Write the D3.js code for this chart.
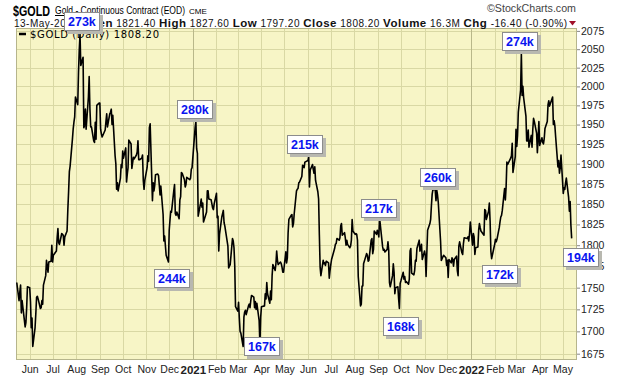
<!DOCTYPE html>
<html><head><meta charset="utf-8">
<script src="https://cdn.jsdelivr.net/npm/d3@7"></script>
<style>body{margin:0;background:#fff}svg{display:block}</style>
</head><body>
<svg id="chart" width="620" height="376"></svg>
<script>
// ---------------- DATA ----------------
const dates2020 = ["05-15","05-18","05-19","05-20","05-21","05-22","05-26","05-27","05-28","05-29","06-01","06-02","06-03","06-04","06-05","06-08","06-09","06-10","06-11","06-12","06-15","06-16","06-17","06-18","06-19","06-22","06-23","06-24","06-25","06-26","06-29","06-30","07-01","07-02","07-06","07-07","07-08","07-09","07-10","07-13","07-14","07-15","07-16","07-17","07-20","07-21","07-22","07-23","07-24","07-27","07-28","07-29","07-30","07-31","08-03","08-04","08-05","08-06","08-07","08-10","08-11","08-12","08-13","08-14","08-17","08-18","08-19","08-20","08-21","08-24","08-25","08-26","08-27","08-28","08-31","09-01","09-02","09-03","09-04","09-08","09-09","09-10","09-11","09-14","09-15","09-16","09-17","09-18","09-21","09-22","09-23","09-24","09-25","09-28","09-29","09-30","10-01","10-02","10-05","10-06","10-07","10-08","10-09","10-12","10-13","10-14","10-15","10-16","10-19","10-20","10-21","10-22","10-23","10-26","10-27","10-28","10-29","10-30","11-02","11-03","11-04","11-05","11-06","11-09","11-10","11-11","11-12","11-13","11-16","11-17","11-18","11-19","11-20","11-23","11-24","11-25","11-27","11-30","12-01","12-02","12-03","12-04","12-07","12-08","12-09","12-10","12-11","12-14","12-15","12-16","12-17","12-18","12-21","12-22","12-23","12-24","12-28","12-29","12-30","12-31"];
const closes2020 = [1756,1735,1745,1753,1721,1735,1705,1710,1727,1751,1750,1734,1704,1715,1683,1704,1720,1739,1740,1737,1726,1727,1735,1731,1753,1764,1782,1775,1768,1780,1781,1800,1780,1788,1793,1809,1820,1803,1801,1814,1813,1812,1800,1810,1817,1843,1865,1890,1897,1931,1944,1953,1960,1986,1976,2019,2049,2070,2028,2039,1946,1949,1970,1944,1986,2013,1970,1947,1947,1929,1927,1953,1931,1975,1978,1978,1944,1938,1934,1943,1954,1964,1947,1964,1966,1970,1950,1962,1910,1900,1868,1876,1866,1882,1899,1895,1916,1907,1920,1877,1887,1895,1930,1925,1894,1901,1908,1906,1911,1915,1929,1905,1905,1907,1911,1879,1868,1879,1895,1910,1903,1946,1951,1854,1876,1866,1873,1886,1887,1885,1873,1861,1872,1837,1805,1811,1788,1780,1818,1830,1841,1840,1866,1874,1838,1836,1840,1832,1855,1859,1889,1888,1880,1871,1874,1883,1880,1882,1893,1895];
const dates2021 = ["01-04","01-05","01-06","01-07","01-08","01-11","01-12","01-13","01-14","01-15","01-19","01-20","01-21","01-22","01-25","01-26","01-27","01-28","01-29","02-01","02-02","02-03","02-04","02-05","02-08","02-09","02-10","02-11","02-12","02-16","02-17","02-18","02-19","02-22","02-23","02-24","02-25","02-26","03-01","03-02","03-03","03-04","03-05","03-08","03-09","03-10","03-11","03-12","03-15","03-16","03-17","03-18","03-19","03-22","03-23","03-24","03-25","03-26","03-29","03-30","03-31","04-01","04-05","04-06","04-07","04-08","04-09","04-12","04-13","04-14","04-15","04-16","04-19","04-20","04-21","04-22","04-23","04-26","04-27","04-28","04-29","04-30","05-03","05-04","05-05","05-06","05-07","05-10","05-11","05-12","05-13","05-14","05-17","05-18","05-19","05-20","05-21","05-24","05-25","05-26","05-27","05-28","06-01","06-02","06-03","06-04","06-07","06-08","06-09","06-10","06-11","06-14","06-15","06-16","06-17","06-18","06-21","06-22","06-23","06-24","06-25","06-28","06-29","06-30","07-01","07-02","07-06","07-07","07-08","07-09","07-12","07-13","07-14","07-15","07-16","07-19","07-20","07-21","07-22","07-23","07-26","07-27","07-28","07-29","07-30","08-02","08-03","08-04","08-05","08-06","08-09","08-10","08-11","08-12","08-13","08-16","08-17","08-18","08-19","08-20","08-23","08-24","08-25","08-26","08-27","08-30","08-31","09-01","09-02","09-03","09-07","09-08","09-09","09-10","09-13","09-14","09-15","09-16","09-17","09-20","09-21","09-22","09-23","09-24","09-27","09-28","09-29","09-30","10-01","10-04","10-05","10-06","10-07","10-08","10-11","10-12","10-13","10-14","10-15","10-18","10-19","10-20","10-21","10-22","10-25","10-26","10-27","10-28","10-29","11-01","11-02","11-03","11-04","11-05","11-08","11-09","11-10","11-11","11-12","11-15","11-16","11-17","11-18","11-19","11-22","11-23","11-24","11-26","11-29","11-30","12-01","12-02","12-03","12-06","12-07","12-08","12-09","12-10","12-13","12-14","12-15","12-16","12-17","12-20","12-21","12-22","12-23","12-27","12-28","12-29","12-30","12-31"];
const closes2021 = [1946,1954,1919,1913,1835,1850,1856,1846,1851,1828,1840,1866,1866,1856,1855,1850,1845,1843,1850,1863,1833,1835,1793,1813,1834,1838,1842,1827,1823,1799,1773,1775,1777,1808,1805,1797,1775,1728,1723,1733,1715,1700,1698,1683,1716,1722,1724,1719,1729,1731,1727,1735,1741,1739,1727,1734,1725,1732,1712,1685,1716,1728,1729,1743,1737,1756,1743,1732,1746,1736,1764,1777,1770,1778,1793,1782,1777,1780,1778,1774,1768,1768,1792,1779,1785,1815,1831,1836,1837,1822,1826,1838,1866,1868,1869,1876,1877,1884,1898,1897,1895,1902,1904,1909,1871,1892,1899,1893,1888,1896,1879,1865,1856,1812,1774,1764,1782,1778,1779,1776,1781,1779,1761,1770,1777,1783,1796,1801,1802,1808,1806,1809,1823,1826,1812,1815,1809,1800,1806,1801,1797,1799,1806,1831,1817,1813,1814,1813,1806,1763,1729,1731,1752,1752,1778,1787,1790,1788,1781,1782,1806,1808,1790,1795,1817,1813,1818,1815,1810,1833,1798,1794,1795,1792,1795,1804,1794,1756,1751,1764,1778,1768,1743,1750,1751,1737,1726,1755,1758,1768,1760,1763,1756,1757,1754,1760,1793,1796,1767,1765,1770,1782,1781,1796,1806,1793,1797,1801,1783,1793,1788,1763,1791,1818,1826,1831,1848,1862,1868,1867,1854,1867,1861,1852,1805,1782,1784,1788,1785,1776,1782,1762,1783,1779,1785,1783,1775,1783,1787,1770,1764,1799,1804,1791,1789,1802,1809,1808,1810,1805,1814,1828];
const dates2022 = ["01-03","01-04","01-05","01-06","01-07","01-10","01-11","01-12","01-13","01-14","01-18","01-19","01-20","01-21","01-24","01-25","01-26","01-27","01-28","01-31","02-01","02-02","02-03","02-04","02-07","02-08","02-09","02-10","02-11","02-14","02-15","02-16","02-17","02-18","02-22","02-23","02-24","02-25","02-28","03-01","03-02","03-03","03-04","03-07","03-08","03-09","03-10","03-11","03-14","03-15","03-16","03-17","03-18","03-21","03-22","03-23","03-24","03-25","03-28","03-29","03-30","03-31","04-01","04-04","04-05","04-06","04-07","04-08","04-11","04-12","04-13","04-14","04-18","04-19","04-20","04-21","04-22","04-25","04-26","04-27","04-28","04-29","05-02","05-03","05-04","05-05","05-06","05-09","05-10","05-11","05-12","05-13"];
const closes2022 = [1800,1814,1810,1789,1797,1798,1818,1826,1821,1817,1812,1843,1842,1831,1841,1851,1829,1793,1784,1797,1801,1807,1804,1807,1821,1828,1834,1836,1842,1869,1855,1871,1902,1899,1907,1910,1926,1889,1909,1944,1922,1936,1966,1995,2043,1988,2000,1985,1961,1929,1929,1943,1921,1936,1921,1944,1958,1954,1939,1914,1933,1954,1923,1933,1927,1925,1932,1945,1954,1976,1981,1974,1986,1950,1955,1948,1934,1896,1904,1888,1895,1911,1863,1870,1868,1876,1882,1858,1841,1853,1824,1808.2];

const yTickValues = [1675,1700,1725,1750,1775,1800,1825,1850,1875,1900,1925,1950,1975,2000,2025,2050,2075];
const xTickLabels = ["Jun","Jul","Aug","Sep","Oct","Nov","Dec","2021","Feb","Mar","Apr","May","Jun","Jul","Aug","Sep","Oct","Nov","Dec","2022","Feb","Mar","Apr","May"];
// volume annotations: label + anchor (date, price) of the box
const annoLabels = ["273k","280k","244k","167k","215k","217k","168k","260k","172k","274k","194k"];
const annoDates  = ["2020-07-16","2020-12-11","2020-11-11","2021-03-09","2021-05-04","2021-08-09","2021-09-07","2021-10-26","2022-01-15","2022-02-10","2022-05-01"];
const annoPrices = [2101,1982,1772,1693.5,1936,1856,1716,1894.6,1776.5,2073.5,1796.7];

// ---------------- BUILD ----------------
const parse = d3.timeParse("%Y-%m-%d");
const series = [];
[[2020,dates2020,closes2020],[2021,dates2021,closes2021],[2022,dates2022,closes2022]].forEach(([yr,ds,cs])=>{
  ds.forEach((d,i)=>series.push({date:parse(yr+"-"+d), close:cs[i]}));
});

const L=16, R=577, T=28, B=360;
const x = d3.scaleTime().domain([parse("2020-05-14"), parse("2022-05-20")]).range([L,R]);
const y = d3.scaleLog().domain([1668,2079]).range([B,T]);

const svg = d3.select("#chart");
const SANS = "'Liberation Sans', Arial, sans-serif";

// plot background
svg.append("rect").attr("x",L).attr("y",T).attr("width",R-L).attr("height",B-T).attr("fill","#f7f5c6");

// horizontal grid
svg.append("g").selectAll("line").data(yTickValues).join("line")
  .attr("x1",L).attr("x2",R).attr("y1",d=>Math.round(y(d))+0.5).attr("y2",d=>Math.round(y(d))+0.5)
  .attr("stroke","#d9d8a4").attr("stroke-width",1);

// vertical grid at month starts
const monthTicks = d3.timeMonth.range(parse("2020-06-01"), parse("2022-05-02"));
svg.append("g").selectAll("line").data(monthTicks).join("line")
  .attr("x1",d=>Math.round(x(d))+0.5).attr("x2",d=>Math.round(x(d))+0.5).attr("y1",T).attr("y2",B)
  .attr("stroke",d=>d.getMonth()===0?"#b9b88a":"#d9d8a4").attr("stroke-width",1);

// border
svg.append("rect").attr("x",L+0.5).attr("y",T+0.5).attr("width",R-L-1).attr("height",B-T-1)
  .attr("fill","none").attr("stroke","#b6b58c");

// right y axis
const yAxis = d3.axisRight(y).tickValues(yTickValues).tickFormat(d3.format("d")).tickSize(3).tickPadding(1);
const ya = svg.append("g").attr("transform",`translate(${R},0)`).call(yAxis);
ya.select(".domain").remove();
ya.selectAll("line").attr("stroke","#888");
ya.selectAll("text").attr("font-family",SANS).attr("font-size","10.5px").attr("fill","#222");

// bottom x axis
const xAxis = d3.axisBottom(x).tickValues(monthTicks).tickFormat((d,i)=>xTickLabels[i]).tickSize(0).tickPadding(6);
const xa = svg.append("g").attr("transform",`translate(0,${B})`).call(xAxis);
xa.select(".domain").remove();
xa.selectAll("text").attr("font-family",SANS).attr("fill","#222")
  .attr("font-size",(d)=>d.getMonth()===0?"11.5px":"10.5px")
  .attr("font-weight",(d)=>d.getMonth()===0?"bold":"normal");

// price line
svg.append("clipPath").attr("id","clip").append("rect").attr("x",L).attr("y",T).attr("width",R-L).attr("height",B-T);
const line = d3.line().x(d=>x(d.date)).y(d=>y(d.close));
svg.append("path").datum(series).attr("d",line).attr("clip-path","url(#clip)")
  .attr("fill","none").attr("stroke","#000").attr("stroke-width",1.6).attr("stroke-linejoin","round");

// legend
svg.append("line").attr("x1",19).attr("x2",26).attr("y1",34).attr("y2",34).attr("stroke","#000").attr("stroke-width",2.5);
svg.append("text").attr("x",30).attr("y",38).attr("font-family","'DejaVu Sans', Verdana, sans-serif").attr("font-size","10px")
  .attr("textLength",129).attr("lengthAdjust","spacing")
  .text("$GOLD (Daily) " + d3.format(".2f")(series[series.length-1].close));

// header
svg.append("text").attr("x",13).attr("y",15.5).attr("font-family",SANS).attr("font-weight","bold").attr("font-size","15px")
  .attr("textLength",37).attr("lengthAdjust","spacingAndGlyphs").text("$GOLD");
const t2 = svg.append("text").attr("x",55).attr("y",14).attr("font-family",SANS).attr("font-size","10px")
  .attr("textLength",130).attr("lengthAdjust","spacingAndGlyphs");
t2.append("tspan").attr("text-decoration","underline").text("Gold");
t2.append("tspan").text(" - Continuous Contract (EOD)");
svg.append("text").attr("x",189).attr("y",14).attr("font-family",SANS).attr("font-size","8px").text("CME");
svg.append("text").attr("x",576).attr("y",12).attr("text-anchor","end").attr("font-family",SANS).attr("font-size","10px").attr("fill","#444")
  .attr("textLength",89).attr("lengthAdjust","spacingAndGlyphs").text("\u00A9StockCharts.com");

const row = svg.append("text").attr("x",14).attr("y",26.5).attr("font-family",SANS).attr("font-size","10px").attr("fill","#111")
  .attr("textLength",553).attr("lengthAdjust","spacing");
[["13-May-2022 ",false],["Open",true],[" 1821.40  ",false],["High",true],[" 1827.60  ",false],["Low",true],[" 1797.20  ",false],
 ["Close",true],[" 1808.20  ",false],["Volume",true],[" 16.3M  ",false],["Chg",true],[" -16.40 (-0.90%)",false]]
 .forEach(([s,b])=>row.append("tspan").attr("font-weight",b?"bold":"normal").attr("font-size",b?"11.5px":"10px").text(s));
svg.append("path").attr("d","M569,21 L576,21 L572.5,25.5 Z").attr("fill","#a0102a");

// annotations
const ann = svg.append("g").selectAll("g").data(annoLabels.map((t,i)=>({t, d:parse(annoDates[i]), p:annoPrices[i]}))).join("g")
  .attr("transform",d=>`translate(${Math.round(x(d.d))},${Math.round(y(d.p))})`);
ann.append("rect").attr("x",3).attr("y",3).attr("width",36).attr("height",19).attr("fill","#b8b8b0");
ann.append("rect").attr("x",0.5).attr("y",0.5).attr("width",35).attr("height",18).attr("fill","#fff").attr("stroke","#8c8c8c");
ann.append("text").attr("x",4).attr("y",14).attr("font-family",SANS).attr("font-weight","bold").attr("font-size","12.5px")
  .attr("fill","#0a14f0").text(d=>d.t);
</script>
</body></html>
